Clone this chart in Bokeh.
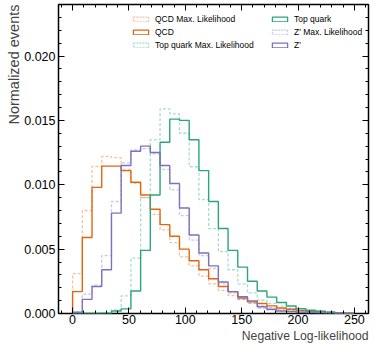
from bokeh.plotting import figure
from bokeh.models import (LinearAxis, FixedTicker, NumeralTickFormatter, Title,
                          Legend, LegendItem, Range1d, CustomJSTickFormatter)
from bokeh.embed import file_html
from bokeh.resources import INLINE

# ---- data (normalized histogram contents, 29 bins from 0 to 250) ----
n_edges = 30
x_min, x_max = 0.0, 250.0

qcd_ml = [0.0031, 0.0080, 0.01143, 0.0122, 0.0121, 0.0112, 0.0101, 0.0090, 0.0077, 0.0065,
          0.0055, 0.0044, 0.0037, 0.0029, 0.0023, 0.0018, 0.0014, 0.0011, 0.0008, 0.0006,
          0.00045, 0.00033, 0.00025, 0.00018, 0.00013, 0.0001, 0.00007, 0.00004, 0.00002]
qcd = [0.0017, 0.0059, 0.0098, 0.01145, 0.01145, 0.0111, 0.0102, 0.0092, 0.0081, 0.0069,
       0.0060, 0.0050, 0.0041, 0.0034, 0.0027, 0.0021, 0.0017, 0.0012, 0.00098, 0.00078,
       0.00059, 0.00043, 0.00033, 0.00023, 0.00018, 0.00015, 0.0001, 0.00005, 0.00002]
top_ml = [0.0, 0.0, 0.0, 0.00005, 0.00028, 0.00137, 0.0043, 0.0090, 0.0135, 0.0159,
          0.0155, 0.0140, 0.0114, 0.00885, 0.0066, 0.0048, 0.0034, 0.0023, 0.0016, 0.00103,
          0.00078, 0.00057, 0.0004, 0.00026, 0.00018, 0.0001, 0.00005, 0.00002, 0.0]
top = [0.0, 0.0, 0.0, 0.0, 0.0002, 0.00036, 0.00175, 0.0049, 0.0092, 0.0133,
       0.0151, 0.0150, 0.0135, 0.0111, 0.0087, 0.0066, 0.0049, 0.0036, 0.0025, 0.00175,
       0.00127, 0.00085, 0.00058, 0.00038, 0.00025, 0.00018, 0.0001, 0.00003, 0.0]
zp_ml = [0.00012, 0.0015, 0.0022, 0.0045, 0.0087, 0.0117, 0.0127, 0.0128, 0.0124, 0.0112,
         0.0096, 0.0076, 0.0057, 0.0045, 0.0035, 0.0023, 0.0016, 0.0011, 0.0008, 0.0004,
         0.00026, 0.00018, 0.00012, 0.00008, 0.00005, 0.00004, 0.00002, 0.00001, 0.0]
zp = [0.0001, 0.0011, 0.0021, 0.0034, 0.0078, 0.0115, 0.0126, 0.0130, 0.0125, 0.0115,
      0.0101, 0.0082, 0.0061, 0.0047, 0.0037, 0.00245, 0.0017, 0.0013, 0.0009, 0.00053,
      0.00033, 0.0002, 0.00015, 0.0001, 0.00008, 0.00005, 0.00003, 0.00002, 0.0]

labels = ["QCD Max. Likelihood", "QCD", "Top quark Max. Likelihood",
          "Top quark", "Z' Max. Likelihood", "Z'"]
x_title = "Negative Log-likelihood"
y_title = "Normalized events"
x_ticks = [0, 50, 100, 150, 200, 250]
y_ticks = [0.0, 0.005, 0.010, 0.015, 0.020]
X_LO, X_HI = -12.5, 262.5
Y_LO, Y_HI = 0.0, 0.024

ORANGE, GREEN, PURPLE = "#e0660f", "#2aa57e", "#7b72bd"
FONT = "Liberation Sans"
NAN = float("nan")

edges = [x_min + (x_max - x_min) * i / (n_edges - 1) for i in range(n_edges)]


def step_outline(h):
    xs, ys = [edges[0]], [0.0]
    for i, v in enumerate(h):
        xs += [edges[i], edges[i + 1]]
        ys += [v, v]
    xs.append(edges[-1])
    ys.append(0.0)
    return xs, ys


p = figure(width=374, height=349, output_backend="svg", toolbar_location=None,
           x_range=Range1d(X_LO, X_HI), y_range=Range1d(Y_LO, Y_HI),
           min_border_left=58, min_border_right=6, min_border_top=4, min_border_bottom=36)
p.background_fill_color = "white"
p.border_fill_color = "white"
p.outline_line_color = "black"
p.outline_line_width = 1.5
p.xgrid.visible = False
p.ygrid.visible = False

series = [(qcd_ml, ORANGE, True), (qcd, ORANGE, False), (top_ml, GREEN, True),
          (top, GREEN, False), (zp_ml, PURPLE, True), (zp, PURPLE, False)]

legend_renderers = []
for h, c, ml in series:
    xs, ys = step_outline(h)
    if ml:
        p.line(xs, ys, line_color=c, line_width=1.3, line_alpha=0.4, line_dash="3 2")
        r = p.quad(left=[NAN], right=[NAN], top=[NAN], bottom=[NAN], fill_color=None,
                   line_color=c, line_width=1.1, line_alpha=0.4, line_dash="2 1")
    else:
        p.line(xs, ys, line_color=c, line_width=1.4)
        r = p.quad(left=[NAN], right=[NAN], top=[NAN], bottom=[NAN], fill_color=None,
                   line_color=c, line_width=1.3)
    legend_renderers.append(r)


def style_axis(ax, show_labels=True):
    ax.axis_line_color = None
    ax.major_tick_in = 6
    ax.major_tick_out = 0
    ax.minor_tick_in = 3
    ax.minor_tick_out = 0
    ax.major_tick_line_color = "black"
    ax.minor_tick_line_color = "black"
    ax.major_tick_line_width = 1
    ax.minor_tick_line_width = 1
    ax.major_label_text_font = FONT
    ax.major_label_text_font_size = "12.5px"
    ax.major_label_text_color = "black"
    if show_labels:
        ax.major_label_standoff = 3
    else:
        ax.formatter = CustomJSTickFormatter(code="return ''")
        ax.major_label_standoff = 0


xt = FixedTicker(ticks=x_ticks, minor_ticks=list(range(-10, 261, 10)))
yt = FixedTicker(ticks=y_ticks, minor_ticks=[i * 0.001 for i in range(0, 25)])

p.xaxis.ticker = xt
p.yaxis.ticker = yt
p.yaxis.formatter = NumeralTickFormatter(format="0.000")
style_axis(p.xaxis[0])
style_axis(p.yaxis[0])
p.xaxis[0].major_label_standoff = 1

top_ax = LinearAxis(ticker=xt, fixed_location=Y_HI)
right_ax = LinearAxis(ticker=yt, fixed_location=X_HI)
style_axis(top_ax, False)
style_axis(right_ax, False)
p.add_layout(top_ax, "above")
p.add_layout(right_ax, "right")

p.add_layout(Title(text=x_title, align="right", text_font=FONT,
                   text_font_size="12.2px", text_font_style="normal", standoff=0), "below")
p.add_layout(Title(text=y_title, align="right", text_font=FONT,
                   text_font_size="14.5px", text_font_style="normal", standoff=0), "left")

leg_kw = dict(border_line_color=None, background_fill_alpha=0, padding=0, margin=0,
              spacing=3, glyph_width=19, glyph_height=6, label_height=9,
              label_standoff=5, label_text_font=FONT, label_text_font_size="8.5px",
              label_text_color="black")
leg1 = Legend(items=[LegendItem(label=labels[i], renderers=[legend_renderers[i]]) for i in range(3)],
              location=(73, 263), **leg_kw)
leg2 = Legend(items=[LegendItem(label=labels[i], renderers=[legend_renderers[i]]) for i in range(3, 6)],
              location=(212, 263), **leg_kw)
p.add_layout(leg1)
p.add_layout(leg2)

open("out.html", "w").write(file_html(p, INLINE))
